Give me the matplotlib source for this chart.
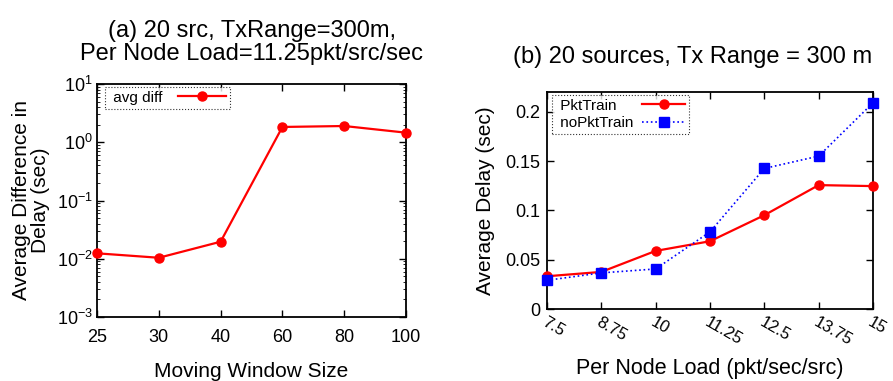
import matplotlib
matplotlib.use("Agg")
import matplotlib.pyplot as plt
import numpy as np

plt.rcParams['font.family'] = ['Liberation Sans', 'DejaVu Sans']
plt.rcParams['mathtext.fontset'] = 'custom'
plt.rcParams['mathtext.rm'] = 'Liberation Sans'
plt.rcParams['mathtext.it'] = 'Liberation Sans'

# (a) moving window size vs average difference in delay
window = ["25", "30", "40", "60", "80", "100"]
avg_diff = [0.0124, 0.0104, 0.0196, 1.83, 1.90, 1.46]

# (b) per node load vs average delay
load = ["7.5", "8.75", "10", "11.25", "12.5", "13.75", "15"]
pkt_train = [0.0332, 0.0376, 0.0589, 0.0687, 0.0951, 0.1256, 0.1246]
no_pkt_train = [0.0291, 0.0366, 0.0406, 0.0782, 0.1425, 0.155, 0.209]

fig = plt.figure(figsize=(8.93, 3.81), dpi=100)
ax1 = fig.add_axes([97 / 893, 1 - 317 / 381, 309 / 893, 233 / 381])
ax2 = fig.add_axes([547 / 893, 1 - 309 / 381, 326 / 893, 217 / 381])

# ---- (a)
x1 = np.arange(len(window))
ax1.plot(x1, avg_diff, color='red', lw=1.6, marker='o', ms=6.5, label='avg diff', clip_on=False, zorder=5)
ax1.set_yscale('log')
ax1.set_ylim(1e-3, 1e1)
ax1.set_xlim(0, len(window) - 1)
ax1.set_xticks(x1)
ax1.set_xticklabels(window)
ax1.set_xlabel("Moving Window Size", fontsize=15, va='top')
ax1.xaxis.set_label_coords(0.5, -0.195)
ax1.set_ylabel("Average Difference in\nDelay (sec)", fontsize=15, linespacing=1.0)
ax1.yaxis.set_label_coords(-0.152, 0.5)
ax1.set_title("(a) 20 src, TxRange=300m,\nPer Node Load=11.25pkt/src/sec", pad=17,
              fontsize=17, linespacing=1.1)
leg1 = ax1.legend(loc='upper left', bbox_to_anchor=(8 / 309, 1 - 3 / 233), borderaxespad=0,
                  fontsize=11, fancybox=False, handlelength=3.2, handletextpad=1.0,
                  borderpad=0.25, markerfirst=False)
leg1.texts[0].set_text(" avg diff")
leg1.get_frame().set_linestyle(':')
leg1.get_frame().set_edgecolor('black')
leg1.get_frame().set_linewidth(0.8)

# ---- (b)
x2 = np.arange(len(load))
ax2.plot(x2, pkt_train, color='red', lw=1.6, marker='o', ms=6.5, label='PktTrain', clip_on=False, zorder=5)
ax2.plot(x2, no_pkt_train, color='blue', lw=1.2, ls=':', marker='s', ms=7, label='noPktTrain',
         clip_on=False, zorder=6)
ax2.set_ylim(0, 0.22)
ax2.set_xlim(0, len(load) - 1)
ax2.set_yticks([0, 0.05, 0.1, 0.15, 0.2])
ax2.set_yticklabels(["0", "0.05", "0.1", "0.15", "0.2"])
ax2.set_xticks(x2)
ax2.set_xticklabels(load, rotation=-30, ha='left', va='top', rotation_mode='anchor', fontsize=12)
ax2.set_xlabel("Per Node Load (pkt/sec/src)", fontsize=15.5, va='top')
ax2.xaxis.set_label_coords(0.5, -0.225)
ax2.set_ylabel("Average Delay (sec)", fontsize=15)
ax2.yaxis.set_label_coords(-0.16, 0.5)
ax2.set_title("(b) 20 sources, Tx Range = 300 m", pad=21, x=(693 - 547) / 326, fontsize=17)
leg2 = ax2.legend(loc='upper left', bbox_to_anchor=(5 / 326, 1 - 3 / 217), borderaxespad=0,
                  fontsize=11, fancybox=False, handlelength=2.8, handletextpad=0.6,
                  borderpad=0.25, markerfirst=False, labelspacing=0.2)
for t in leg2.texts:
    t.set_text(" " + t.get_text())
leg2.get_frame().set_linestyle(':')
leg2.get_frame().set_edgecolor('black')
leg2.get_frame().set_linewidth(0.8)

# left-align the legend texts while keeping the handles on the right
renderer = fig.canvas.get_renderer()
rows = [r for col in leg2._legend_handle_box.get_children() for r in col.get_children()]
widths = [t.get_window_extent(renderer).width for t in leg2.texts]
for r, w in zip(rows, widths):
    r.sep += (max(widths) - w) * 72 / fig.dpi

for ax in (ax1, ax2):
    ax.tick_params(direction='in', top=True, right=True, labelsize=13, length=5, width=1)
    ax.tick_params(which='minor', direction='in', top=True, right=True, length=2.5)
    for s in ax.spines.values():
        s.set_linewidth(1.3)
ax1.tick_params(axis='x', pad=9)
ax1.tick_params(axis='y', pad=3)
ax2.tick_params(axis='x', pad=4, labelsize=12)
ax2.tick_params(axis='y', pad=5)

fig.savefig("out.png", dpi=100)
